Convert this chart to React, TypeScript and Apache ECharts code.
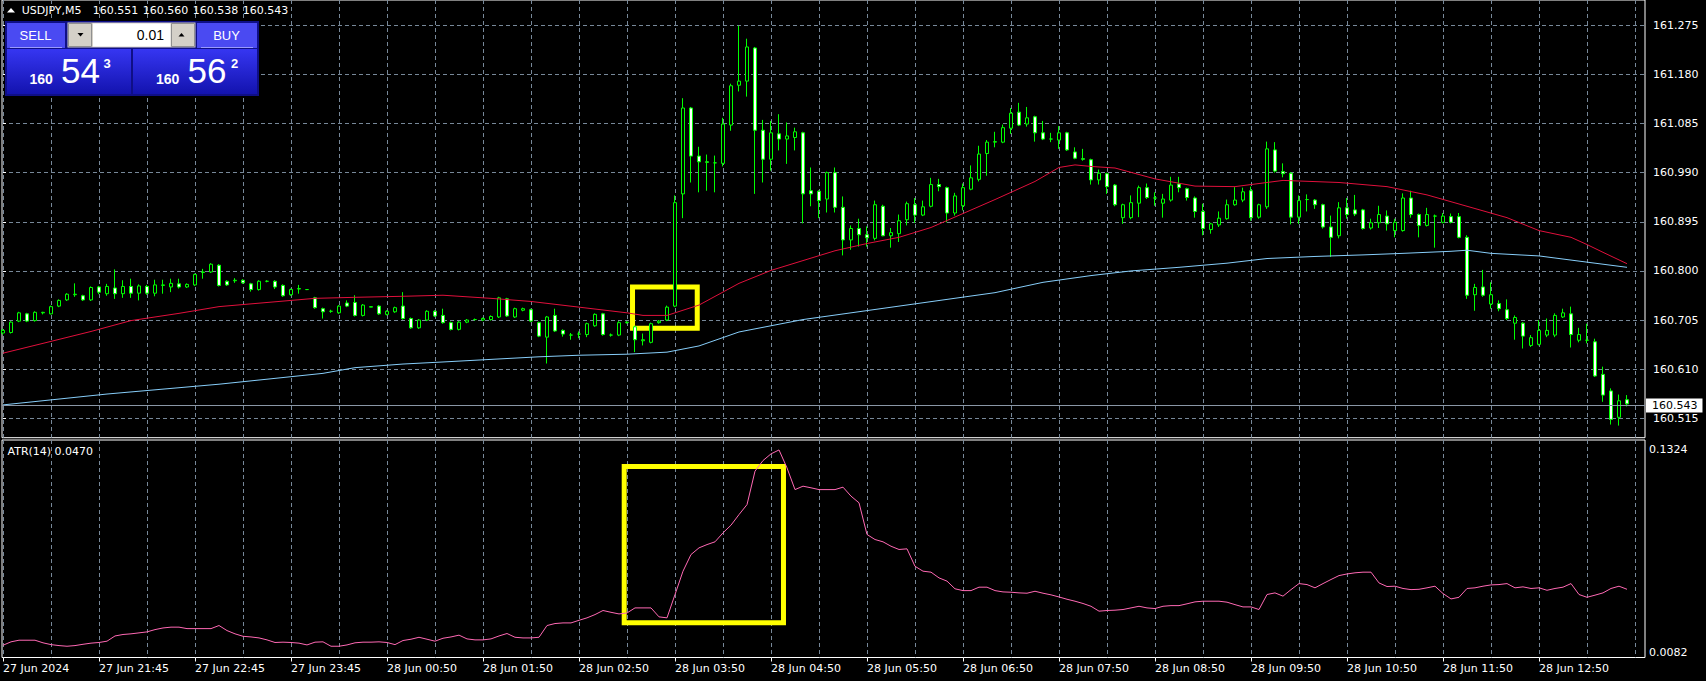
import React, { useEffect, useRef } from "react";
import * as echarts from "echarts";

// ---------- header / trade panel texts ----------
const symbolTitle = "USDJPY,M5";
const headerQuote = ["160.551", "160.560", "160.538", "160.543"];
const lotSize = "0.01";
const sellQuote = ["160", "54", "3"];
const buyQuote = ["160", "56", "2"];
const atrTitle = "ATR(14) 0.0470";
const bidPrice = 160.543;

// ---------- axes ----------
const xLabels = [
  "27 Jun 2024", "27 Jun 21:45", "27 Jun 22:45", "27 Jun 23:45", "28 Jun 00:50",
  "28 Jun 01:50", "28 Jun 02:50", "28 Jun 03:50", "28 Jun 04:50", "28 Jun 05:50",
  "28 Jun 06:50", "28 Jun 07:50", "28 Jun 08:50", "28 Jun 09:50", "28 Jun 10:50",
  "28 Jun 11:50", "28 Jun 12:50",
];
const labelBars = [0, 12, 24, 36, 48, 60, 72, 84, 96, 108, 120, 132, 144, 156, 168, 180, 192];
const gridBars = [0, 6, 12, 18, 24, 30, 36, 42, 48, 54, 60, 66, 72, 78, 84, 90, 96, 102, 108, 114, 120, 126, 132, 138, 144, 150, 156, 162, 168, 174, 180, 186, 192, 198, 204];
const priceTicks = [160.515, 160.61, 160.705, 160.8, 160.895, 160.99, 161.085, 161.18, 161.275];
const atrTicks = [0.0082, 0.1324];

// ---------- candles: [open, high, low, close] ----------
const ohlc: number[][] = [
  [160.680, 160.688, 160.677, 160.685], [160.681, 160.703, 160.679, 160.701], [160.703, 160.721, 160.701, 160.719], [160.717, 160.719, 160.701, 160.703],
  [160.704, 160.722, 160.702, 160.720], [160.719, 160.721, 160.716, 160.720], [160.717, 160.733, 160.716, 160.731], [160.732, 160.745, 160.730, 160.743],
  [160.744, 160.757, 160.742, 160.755], [160.754, 160.776, 160.750, 160.755], [160.752, 160.754, 160.742, 160.744], [160.744, 160.770, 160.742, 160.768],
  [160.769, 160.771, 160.755, 160.759], [160.756, 160.775, 160.752, 160.770], [160.767, 160.803, 160.746, 160.756], [160.756, 160.782, 160.748, 160.770],
  [160.770, 160.785, 160.748, 160.757], [160.757, 160.774, 160.743, 160.771], [160.770, 160.773, 160.754, 160.757], [160.757, 160.783, 160.751, 160.773],
  [160.772, 160.783, 160.756, 160.773], [160.769, 160.785, 160.759, 160.776], [160.775, 160.785, 160.766, 160.769], [160.769, 160.776, 160.767, 160.774],
  [160.773, 160.795, 160.771, 160.793], [160.797, 160.804, 160.785, 160.798], [160.798, 160.815, 160.796, 160.813], [160.811, 160.813, 160.770, 160.772],
  [160.780, 160.782, 160.771, 160.773], [160.781, 160.786, 160.777, 160.782], [160.782, 160.784, 160.775, 160.777], [160.775, 160.777, 160.760, 160.764],
  [160.764, 160.782, 160.762, 160.780], [160.780, 160.782, 160.778, 160.780], [160.780, 160.782, 160.765, 160.769], [160.772, 160.774, 160.750, 160.752],
  [160.754, 160.766, 160.752, 160.764], [160.765, 160.773, 160.756, 160.766], [160.764, 160.765, 160.763, 160.764], [160.748, 160.750, 160.727, 160.729],
  [160.727, 160.729, 160.708, 160.721], [160.722, 160.725, 160.719, 160.722], [160.719, 160.734, 160.717, 160.732], [160.738, 160.743, 160.730, 160.732],
  [160.739, 160.753, 160.712, 160.714], [160.714, 160.736, 160.712, 160.734], [160.730, 160.731, 160.730, 160.731], [160.732, 160.734, 160.715, 160.717],
  [160.716, 160.724, 160.714, 160.722], [160.721, 160.731, 160.719, 160.729], [160.732, 160.759, 160.706, 160.708], [160.708, 160.710, 160.688, 160.690],
  [160.690, 160.707, 160.688, 160.705], [160.705, 160.724, 160.703, 160.722], [160.722, 160.724, 160.711, 160.713], [160.714, 160.727, 160.698, 160.700],
  [160.700, 160.702, 160.685, 160.687], [160.687, 160.703, 160.685, 160.701], [160.701, 160.707, 160.699, 160.705], [160.706, 160.708, 160.704, 160.706],
  [160.705, 160.710, 160.703, 160.708], [160.706, 160.714, 160.704, 160.712], [160.711, 160.750, 160.709, 160.748], [160.746, 160.748, 160.711, 160.713],
  [160.711, 160.729, 160.709, 160.727], [160.724, 160.729, 160.722, 160.727], [160.725, 160.727, 160.701, 160.703], [160.700, 160.702, 160.672, 160.674],
  [160.672, 160.713, 160.621, 160.711], [160.714, 160.727, 160.682, 160.684], [160.685, 160.687, 160.673, 160.678], [160.676, 160.680, 160.667, 160.676],
  [160.678, 160.683, 160.670, 160.678], [160.677, 160.700, 160.672, 160.698], [160.694, 160.718, 160.692, 160.716], [160.717, 160.719, 160.675, 160.677],
  [160.676, 160.679, 160.673, 160.676], [160.676, 160.703, 160.674, 160.700], [160.700, 160.703, 160.698, 160.701], [160.692, 160.694, 160.643, 160.667],
  [160.665, 160.679, 160.656, 160.667], [160.662, 160.700, 160.660, 160.698], [160.700, 160.705, 160.698, 160.703], [160.705, 160.733, 160.703, 160.730],
  [160.732, 160.946, 160.730, 160.932], [160.949, 161.134, 160.902, 161.115], [161.115, 161.117, 160.971, 161.022], [161.022, 161.040, 160.952, 161.011],
  [161.011, 161.025, 160.955, 161.010], [161.009, 161.023, 160.952, 161.009], [161.008, 161.096, 161.002, 161.084], [161.082, 161.162, 161.071, 161.158],
  [161.159, 161.274, 161.147, 161.167], [161.167, 161.249, 161.137, 161.233], [161.231, 161.233, 160.949, 161.072], [161.072, 161.092, 160.971, 161.016],
  [161.016, 161.090, 160.994, 161.067], [161.065, 161.103, 161.033, 161.055], [161.055, 161.087, 161.007, 161.061], [161.058, 161.077, 161.033, 161.069],
  [161.067, 161.069, 160.892, 160.949], [160.955, 161.000, 160.925, 160.949], [160.954, 160.956, 160.902, 160.936], [160.939, 160.992, 160.913, 160.990],
  [160.990, 161.000, 160.913, 160.923], [160.923, 160.944, 160.830, 160.860], [160.860, 160.888, 160.841, 160.882], [160.882, 160.901, 160.847, 160.870],
  [160.870, 160.886, 160.847, 160.864], [160.863, 160.936, 160.859, 160.928], [160.925, 160.928, 160.867, 160.868], [160.868, 160.883, 160.845, 160.874],
  [160.872, 160.909, 160.856, 160.897], [160.899, 160.934, 160.888, 160.930], [160.928, 160.941, 160.893, 160.908], [160.908, 160.936, 160.906, 160.924],
  [160.925, 160.980, 160.923, 160.967], [160.967, 160.978, 160.954, 160.963], [160.961, 160.963, 160.894, 160.912], [160.912, 160.951, 160.907, 160.945],
  [160.926, 160.969, 160.917, 160.961], [160.958, 161.004, 160.956, 160.980], [160.977, 161.042, 160.973, 161.026], [161.027, 161.053, 160.984, 161.049],
  [161.049, 161.069, 161.039, 161.050], [161.049, 161.083, 161.047, 161.077], [161.076, 161.115, 161.065, 161.105], [161.107, 161.125, 161.080, 161.082],
  [161.084, 161.117, 161.079, 161.096], [161.098, 161.100, 161.050, 161.067], [161.067, 161.090, 161.053, 161.055], [161.055, 161.067, 161.049, 161.055],
  [161.053, 161.080, 161.036, 161.067], [161.067, 161.069, 161.032, 161.034], [161.030, 161.039, 161.016, 161.018], [161.017, 161.036, 161.013, 161.016],
  [161.015, 161.017, 160.967, 160.976], [160.976, 160.996, 160.967, 160.989], [160.988, 160.990, 160.949, 160.963], [160.966, 160.968, 160.925, 160.928],
  [160.903, 160.930, 160.891, 160.928], [160.903, 160.946, 160.900, 160.932], [160.931, 160.965, 160.904, 160.961], [160.961, 160.969, 160.939, 160.942],
  [160.941, 160.952, 160.926, 160.941], [160.931, 160.949, 160.903, 160.939], [160.937, 160.982, 160.934, 160.966], [160.968, 160.982, 160.952, 160.961],
  [160.959, 160.961, 160.936, 160.942], [160.941, 160.944, 160.903, 160.915], [160.915, 160.930, 160.869, 160.882], [160.880, 160.893, 160.872, 160.891],
  [160.889, 160.915, 160.885, 160.902], [160.901, 160.938, 160.899, 160.928], [160.928, 160.962, 160.926, 160.937], [160.937, 160.961, 160.933, 160.953],
  [160.955, 160.963, 160.897, 160.903], [160.904, 160.930, 160.901, 160.928], [160.924, 161.050, 160.920, 161.036], [161.034, 161.049, 160.990, 160.993],
  [160.992, 161.008, 160.981, 160.988], [160.989, 160.991, 160.890, 160.904], [160.904, 160.946, 160.891, 160.936], [160.938, 160.948, 160.915, 160.938],
  [160.937, 160.939, 160.920, 160.928], [160.928, 160.930, 160.882, 160.885], [160.885, 160.907, 160.827, 160.865], [160.868, 160.933, 160.863, 160.922],
  [160.922, 160.941, 160.901, 160.909], [160.918, 160.947, 160.906, 160.910], [160.918, 160.920, 160.880, 160.882], [160.883, 160.901, 160.880, 160.893],
  [160.893, 160.926, 160.883, 160.909], [160.906, 160.917, 160.878, 160.891], [160.878, 160.901, 160.865, 160.894], [160.878, 160.950, 160.876, 160.941],
  [160.941, 160.955, 160.903, 160.909], [160.909, 160.911, 160.865, 160.888], [160.888, 160.922, 160.886, 160.909], [160.906, 160.909, 160.845, 160.906],
  [160.894, 160.912, 160.892, 160.906], [160.905, 160.911, 160.892, 160.894], [160.905, 160.912, 160.863, 160.865], [160.865, 160.869, 160.746, 160.753],
  [160.754, 160.775, 160.723, 160.768], [160.769, 160.802, 160.750, 160.753], [160.736, 160.778, 160.727, 160.754], [160.737, 160.743, 160.722, 160.727],
  [160.725, 160.745, 160.705, 160.708], [160.699, 160.714, 160.667, 160.710], [160.699, 160.701, 160.650, 160.674], [160.656, 160.676, 160.653, 160.671],
  [160.658, 160.705, 160.656, 160.685], [160.676, 160.708, 160.672, 160.685], [160.676, 160.718, 160.672, 160.714], [160.711, 160.727, 160.709, 160.719],
  [160.717, 160.731, 160.652, 160.677], [160.666, 160.690, 160.662, 160.677], [160.666, 160.698, 160.660, 160.666], [160.663, 160.669, 160.595, 160.597],
  [160.600, 160.615, 160.547, 160.560], [160.568, 160.573, 160.503, 160.513], [160.517, 160.561, 160.501, 160.549], [160.551, 160.560, 160.538, 160.543],
];

// ---------- moving averages, read at sampled bars: [bar, price] ----------
const redMA = [
  [0, 160.641], [5, 160.660], [11, 160.683], [16, 160.704], [22, 160.718], [27, 160.731], [33, 160.739], [39, 160.747],
  [44, 160.749], [50, 160.751], [55, 160.753], [61, 160.747], [66, 160.741], [72, 160.730], [78, 160.719], [80, 160.714],
  [83, 160.714], [87, 160.734], [92, 160.776], [96, 160.801], [100, 160.820], [104, 160.839], [108, 160.853], [112, 160.865],
  [116, 160.884], [120, 160.911], [124, 160.938], [129, 160.973], [132, 161.0], [134, 161.005], [136, 161.002], [139, 160.999],
  [144, 160.978], [149, 160.964], [154, 160.963], [160, 160.975], [167, 160.971], [173, 160.963], [178, 160.947], [183, 160.925],
  [188, 160.903], [192, 160.878], [196, 160.865], [198, 160.851], [200, 160.836], [203, 160.814],
];
const blueMA = [
  [0, 160.541], [13, 160.562], [27, 160.581], [40, 160.602], [44, 160.613], [50, 160.620], [55, 160.624], [61, 160.629],
  [67, 160.634], [72, 160.637], [78, 160.639], [83, 160.643], [87, 160.655], [92, 160.682], [100, 160.706], [112, 160.732],
  [124, 160.758], [130, 160.778], [136, 160.791], [141, 160.8], [147, 160.807], [153, 160.815], [158, 160.824], [164, 160.828],
  [170, 160.831], [175, 160.834], [181, 160.838], [183, 160.84], [186, 160.834], [192, 160.829], [198, 160.817], [203, 160.807],
];

// ---------- ATR(14) ----------
const atr = [
  0.0127, 0.0148, 0.0158, 0.0158, 0.0158, 0.0142, 0.0131, 0.0125, 0.0121, 0.0125, 0.0133, 0.0140, 0.0144, 0.0152, 0.0184, 0.0193,
  0.0197, 0.0203, 0.0209, 0.0223, 0.0233, 0.0238, 0.0238, 0.0229, 0.0229, 0.0229, 0.0229, 0.0248, 0.0217, 0.0197, 0.0182, 0.0178,
  0.0172, 0.0160, 0.0144, 0.0146, 0.0144, 0.0140, 0.0129, 0.0146, 0.0148, 0.0121, 0.0121, 0.0129, 0.0142, 0.0146, 0.0146, 0.0148,
  0.0144, 0.0131, 0.0156, 0.0164, 0.0176, 0.0164, 0.0152, 0.0170, 0.0178, 0.0189, 0.0166, 0.0160, 0.0160, 0.0166, 0.0184, 0.0199,
  0.0176, 0.0172, 0.0172, 0.0176, 0.0248, 0.0260, 0.0264, 0.0264, 0.0280, 0.0295, 0.0315, 0.0340, 0.0329, 0.0319, 0.0325, 0.0356,
  0.0356, 0.0356, 0.0301, 0.0295, 0.0438, 0.0581, 0.0683, 0.0724, 0.0744, 0.0761, 0.0816, 0.0863, 0.0928, 0.0989, 0.1194, 0.1259,
  0.1300, 0.1324, 0.1214, 0.1081, 0.1102, 0.1092, 0.1081, 0.1081, 0.1081, 0.1096, 0.1041, 0.1000, 0.0806, 0.0775, 0.0761, 0.0734,
  0.0714, 0.0718, 0.0611, 0.0581, 0.0575, 0.0540, 0.0520, 0.0473, 0.0462, 0.0462, 0.0483, 0.0483, 0.0462, 0.0454, 0.0452, 0.0448,
  0.0446, 0.0458, 0.0446, 0.0436, 0.0423, 0.0409, 0.0397, 0.0383, 0.0366, 0.0336, 0.0340, 0.0342, 0.0346, 0.0356, 0.0366, 0.0356,
  0.0352, 0.0366, 0.0370, 0.0370, 0.0381, 0.0393, 0.0397, 0.0397, 0.0397, 0.0391, 0.0376, 0.0362, 0.0362, 0.0346, 0.0438, 0.0448,
  0.0428, 0.0468, 0.0505, 0.0499, 0.0479, 0.0505, 0.0530, 0.0554, 0.0564, 0.0571, 0.0575, 0.0575, 0.0509, 0.0487, 0.0489, 0.0475,
  0.0468, 0.0470, 0.0479, 0.0489, 0.0444, 0.0411, 0.0421, 0.0475, 0.0479, 0.0489, 0.0497, 0.0499, 0.0505, 0.0479, 0.0485, 0.0475,
  0.0479, 0.0464, 0.0475, 0.0483, 0.0505, 0.0438, 0.0421, 0.0434, 0.0448, 0.0475, 0.0489, 0.0470,
];

// yellow highlight boxes: [barFrom, valueTop, barTo, valueBottom]
const priceBox = [78.69, 160.769, 86.78, 160.689];
const atrBox = [77.65, 0.1223, 97.56, 0.0265];

const FONT = '"DejaVu Sans", sans-serif';
const PFONT = '"Liberation Sans", Arial, sans-serif';
const GRID = "#778899";

function buildOption(): any {
  const xCommon = { type: "value", min: -0.125, max: 205.25 };
  const boxStyle = { color: "rgba(0,0,0,0)", borderColor: "#ffff00", borderWidth: 5 };
  const boxGrad = new echarts.graphic.LinearGradient(0, 0, 0, 1, [
    { offset: 0, color: "#3636f2" },
    { offset: 1, color: "#1313ae" },
  ]);
  const txt = (x: number, y: number, text: string, font: string, fill = "#ffffff", align = "left") => ({
    type: "text", x, y, z: 110,
    style: { text, font, fill, align, verticalAlign: "middle" },
  });
  const graphic: any[] = [
    { type: "polygon", z: 100, shape: { points: [[7, 12.5], [15, 12.5], [11, 8]] }, style: { fill: "#ffffff" } },
    txt(21.7, 10, symbolTitle, `11px ${FONT}`),
    ...headerQuote.map((q, k) => txt(92.7 + 50 * k, 10, q, `11px ${FONT}`)),
    // trade panel
    { type: "rect", z: 99, shape: { x: 5, y: 21, width: 254, height: 75 }, style: { fill: "#0f0f86" } },
    { type: "rect", z: 100, shape: { x: 7, y: 23, width: 58, height: 25 }, style: { fill: "#4a4af2" } },
    { type: "rect", z: 100, shape: { x: 197, y: 23, width: 60, height: 25 }, style: { fill: "#4a4af2" } },
    { type: "line", z: 101, shape: { x1: 10, y1: 47.5, x2: 62, y2: 47.5 }, style: { stroke: "#9a9aff", lineWidth: 1 } },
    { type: "line", z: 101, shape: { x1: 201, y1: 47.5, x2: 253, y2: 47.5 }, style: { stroke: "#9a9aff", lineWidth: 1 } },
    { type: "rect", z: 100, shape: { x: 67.5, y: 22.5, width: 128, height: 25 }, style: { fill: "#d4d0c8" } },
    { type: "rect", z: 101, shape: { x: 68.5, y: 23.5, width: 23, height: 23 }, style: { fill: "#d4d0c8", stroke: "#909090" } },
    { type: "rect", z: 101, shape: { x: 93, y: 23.5, width: 77.5, height: 23 }, style: { fill: "#ffffff" } },
    { type: "rect", z: 101, shape: { x: 171.5, y: 23.5, width: 23, height: 23 }, style: { fill: "#d4d0c8", stroke: "#909090" } },
    { type: "polygon", z: 102, shape: { points: [[77.5, 33], [83.5, 33], [80.5, 36.5]] }, style: { fill: "#000000" } },
    { type: "polygon", z: 102, shape: { points: [[178.5, 36.5], [184.5, 36.5], [181.5, 33]] }, style: { fill: "#000000" } },
    txt(164, 35, lotSize, `14px ${PFONT}`, "#000000", "right"),
    txt(35.5, 35, "SELL", `13px ${PFONT}`, "#ffffff", "center"),
    txt(226.5, 35, "BUY", `13px ${PFONT}`, "#ffffff", "center"),
    { type: "rect", z: 100, shape: { x: 7, y: 49, width: 124, height: 45 }, style: { fill: boxGrad } },
    { type: "rect", z: 100, shape: { x: 133, y: 49, width: 124, height: 45 }, style: { fill: boxGrad } },
    txt(29.5, 79, sellQuote[0], `bold 14px ${PFONT}`),
    txt(61, 70.5, sellQuote[1], `35px ${PFONT}`),
    txt(103.5, 63.5, sellQuote[2], `bold 13px ${PFONT}`),
    txt(156, 79, buyQuote[0], `bold 14px ${PFONT}`),
    txt(187.5, 70.5, buyQuote[1], `35px ${PFONT}`),
    txt(231, 63.5, buyQuote[2], `bold 13px ${PFONT}`),
    txt(7.5, 451, atrTitle, `11px ${FONT}`),
  ];

  return {
    animation: false,
    backgroundColor: "#000000",
    textStyle: { fontFamily: FONT },
    grid: [
      { left: 2, top: -1, width: 1643, height: 438.7, show: true, borderColor: "#ffffff", borderWidth: 1, backgroundColor: "transparent" },
      { left: 2, top: 440, width: 1643, height: 217.5, show: true, borderColor: "#ffffff", borderWidth: 1, backgroundColor: "transparent" },
    ],
    xAxis: [
      {
        ...xCommon, gridIndex: 0,
        axisLine: { show: false }, axisLabel: { show: false },
        axisTick: { show: false, customValues: gridBars },
        splitLine: { show: true, lineStyle: { color: GRID, type: [4, 3], width: 1 } },
      },
      {
        ...xCommon, gridIndex: 1, position: "bottom",
        axisLine: { show: false }, axisLabel: { show: false },
        axisTick: { show: false, customValues: gridBars },
        splitLine: { show: true, lineStyle: { color: GRID, type: [4, 3], width: 1 } },
      },
      {
        ...xCommon, gridIndex: 1, position: "bottom",
        axisLine: { show: false },
        axisTick: { show: true, customValues: labelBars, length: 4, lineStyle: { color: "#ffffff" } },
        axisLabel: {
          show: true, customValues: labelBars, color: "#ffffff", fontSize: 11, fontFamily: FONT,
          align: "left", margin: 5,
          formatter: (v: number) => xLabels[labelBars.indexOf(Math.round(v))] ?? "",
        },
        splitLine: { show: false },
      },
    ],
    yAxis: [
      {
        type: "value", gridIndex: 0, position: "right", min: 160.4776, max: 161.3238,
        axisLine: { show: false },
        axisTick: { show: true, customValues: priceTicks, length: 3, lineStyle: { color: "#ffffff" } },
        axisLabel: {
          customValues: priceTicks, color: "#ffffff", fontSize: 11, fontFamily: FONT, margin: 8,
          formatter: (v: number) => v.toFixed(3),
        },
        splitLine: { show: true, lineStyle: { color: GRID, type: [4, 3], width: 1 } },
      },
      {
        type: "value", gridIndex: 1, position: "right", min: 0.0052, max: 0.1385,
        axisLine: { show: false },
        axisTick: { show: false, customValues: atrTicks },
        axisLabel: {
          customValues: atrTicks, color: "#ffffff", fontSize: 11, fontFamily: FONT, margin: 4,
          formatter: (v: number) => v.toFixed(4),
        },
        splitLine: { show: false },
      },
    ],
    series: [
      {
        type: "candlestick", name: "USDJPY", xAxisIndex: 0, yAxisIndex: 0, z: 3,
        barWidth: 4,
        data: ohlc.map((c, i) => [i, c[0], c[3], c[2], c[1]]),
        itemStyle: {
          color: "#000000", color0: "#ffffff",
          borderColor: "#00ff00", borderColor0: "#00ff00", borderColorDoji: "#00ff00", borderWidth: 1,
        },
        markLine: {
          silent: true, symbol: ["none", "none"],
          lineStyle: { color: "#8a97a6", type: "solid", width: 1 },
          label: {
            show: true, position: "end", distance: 1, formatter: bidPrice.toFixed(3),
            backgroundColor: "#ffffff", color: "#000000", fontSize: 11, fontFamily: FONT,
            padding: [1, 5, 1, 6], lineHeight: 12,
          },
          data: [{ yAxis: bidPrice }],
        },
        markArea: {
          silent: true, itemStyle: boxStyle, label: { show: false },
          data: [[{ coord: [priceBox[0], priceBox[1]] }, { coord: [priceBox[2], priceBox[3]] }]],
        },
      },
      {
        type: "line", name: "MA fast", xAxisIndex: 0, yAxisIndex: 0, z: 4,
        data: redMA, symbol: "none", lineStyle: { color: "#e0103c", width: 1 },
      },
      {
        type: "line", name: "MA slow", xAxisIndex: 0, yAxisIndex: 0, z: 4,
        data: blueMA, symbol: "none", lineStyle: { color: "#87cefa", width: 1 },
      },
      {
        type: "line", name: "ATR(14)", xAxisIndex: 1, yAxisIndex: 1, z: 4,
        data: atr.map((v, i) => [i, v]), symbol: "none", lineStyle: { color: "#ff69b4", width: 1 },
        markArea: {
          silent: true, itemStyle: boxStyle, label: { show: false },
          data: [[{ coord: [atrBox[0], atrBox[1]] }, { coord: [atrBox[2], atrBox[3]] }]],
        },
      },
    ],
    graphic,
  };
}

export default function App() {
  const ref = useRef<HTMLDivElement>(null);
  useEffect(() => {
    if (!ref.current) return;
    const chart = echarts.init(ref.current, null, { renderer: "svg" });
    chart.setOption(buildOption());
    return () => chart.dispose();
  }, []);
  return (
    <div
      ref={ref}
      style={{ position: "fixed", left: 0, top: 0, width: 1706, height: 681, background: "#000000" }}
    />
  );
}
